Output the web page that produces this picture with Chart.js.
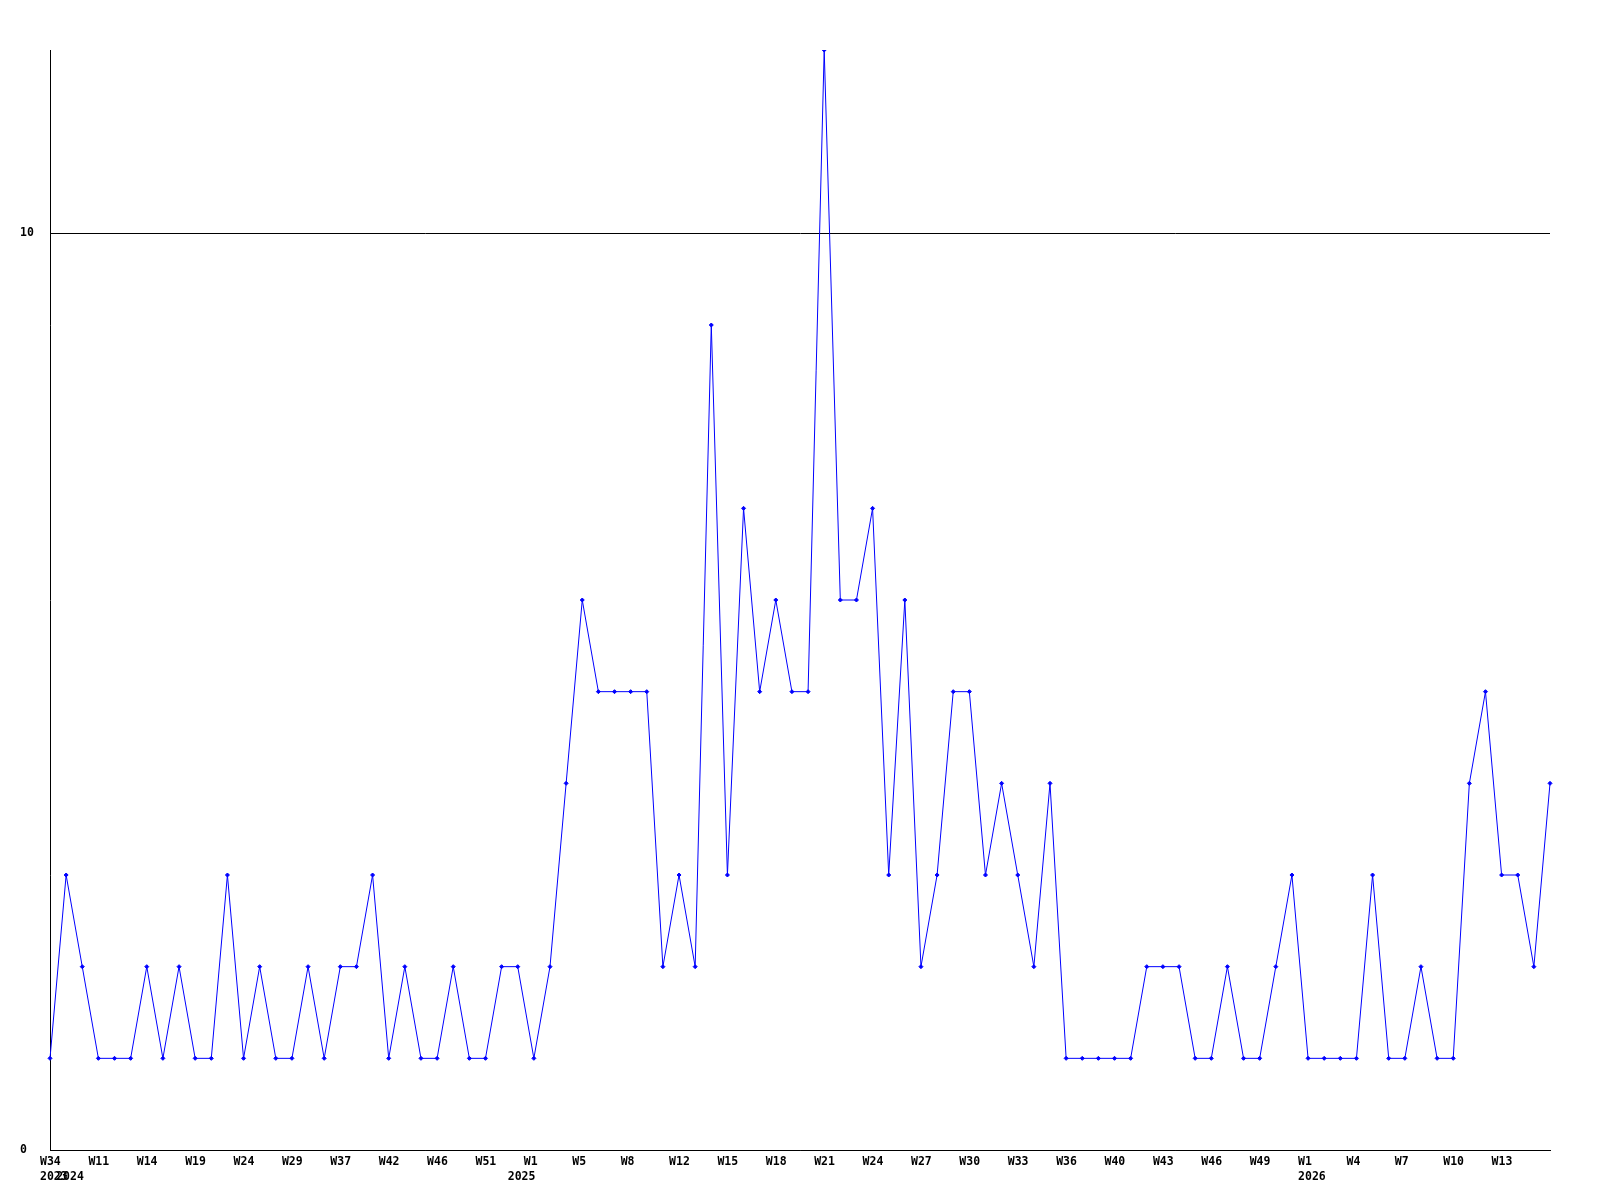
<!DOCTYPE html>
<html>
<head>
<meta charset="utf-8">
<script src="https://cdn.jsdelivr.net/npm/chart.js@4"></script>
<style>
  html, body { margin: 0; padding: 0; background: #fff; }
  #wrap { width: 1600px; height: 1200px; }
</style>
</head>
<body>
<div id="wrap"><canvas id="weekChart" width="1600" height="1200"></canvas></div>
<script>
// Categories: year-week of each data point (only weeks with entries)
const categories = [
    '2023-W34', '2024-W06', '2024-W09', '2024-W11', '2024-W12', '2024-W13', '2024-W14', '2024-W16', '2024-W17', '2024-W19',
    '2024-W21', '2024-W22', '2024-W24', '2024-W26', '2024-W27', '2024-W29', '2024-W32', '2024-W35', '2024-W37', '2024-W39',
    '2024-W40', '2024-W42', '2024-W44', '2024-W45', '2024-W46', '2024-W48', '2024-W50', '2024-W51', '2024-W52', '2025-W00',
    '2025-W01', '2025-W02', '2025-W04', '2025-W05', '2025-W06', '2025-W07', '2025-W08', '2025-W10', '2025-W11', '2025-W12',
    '2025-W13', '2025-W14', '2025-W15', '2025-W16', '2025-W17', '2025-W18', '2025-W19', '2025-W20', '2025-W21', '2025-W22',
    '2025-W23', '2025-W24', '2025-W25', '2025-W26', '2025-W27', '2025-W28', '2025-W29', '2025-W30', '2025-W31', '2025-W32',
    '2025-W33', '2025-W34', '2025-W35', '2025-W36', '2025-W37', '2025-W39', '2025-W40', '2025-W41', '2025-W42', '2025-W43',
    '2025-W44', '2025-W45', '2025-W46', '2025-W47', '2025-W48', '2025-W49', '2025-W50', '2025-W51', '2026-W01', '2026-W02',
    '2026-W03', '2026-W04', '2026-W05', '2026-W06', '2026-W07', '2026-W08', '2026-W09', '2026-W10', '2026-W11', '2026-W12',
    '2026-W13', '2026-W14', '2026-W15', '2026-W16'
];

// Count per week
const counts = [
    1, 3, 2, 1, 1, 1, 2, 1, 2, 1,
    1, 3, 1, 2, 1, 1, 2, 1, 2, 2,
    3, 1, 2, 1, 1, 2, 1, 1, 2, 2,
    1, 2, 4, 6, 5, 5, 5, 5, 2, 3,
    2, 9, 3, 7, 5, 6, 5, 5, 12, 6,
    6, 7, 3, 6, 2, 3, 5, 5, 3, 4,
    3, 2, 4, 1, 1, 1, 1, 1, 2, 2,
    2, 1, 1, 2, 1, 1, 2, 3, 1, 1,
    1, 1, 3, 1, 1, 2, 1, 1, 4, 5,
    3, 3, 2, 4
];

// Y axis
const yMax = 12;
const yTicks = [0, 10];
const labelEvery = 3;

const labelFont = { family: 'DejaVu Sans Mono', size: 11.5, weight: 'bold', lineHeight: 1.3 };

function tickLabel(index) {
    const [year, week] = categories[index].split('-');
    const prevYear = index > 0 ? categories[index - 1].split('-')[0] : null;
    // no week label on the very last point (it would run off the plot)
    const showWeek = index % labelEvery === 0 && index < categories.length - 1;
    const weekText = showWeek ? 'W' + parseInt(week.slice(1), 10) : '';
    const yearText = year !== prevYear ? year : '';
    if (!weekText && !yearText) return '';
    return yearText ? [weekText, yearText] : weekText;
}

const ctx = document.getElementById('weekChart').getContext('2d');
const weekChart = new Chart(ctx, {
    type: 'line',
    data: {
        labels: categories,
        datasets: [{
            data: counts,
            borderColor: '#0000ff',
            backgroundColor: '#0000ff',
            borderWidth: 1,
            tension: 0,
            pointStyle: 'rectRot',
            pointRadius: 2,
            pointBorderWidth: 1,
            pointBackgroundColor: '#0000ff',
            pointBorderColor: '#0000ff'
        }]
    },
    options: {
        responsive: false,
        animation: false,
        devicePixelRatio: 1,
        layout: { padding: { top: 50, right: 50, bottom: 0, left: 20 } },
        plugins: {
            legend: { display: false },
            tooltip: { enabled: false }
        },
        scales: {
            x: {
                type: 'category',
                offset: false,
                grid: { display: false, drawTicks: false },
                border: { display: true, color: '#000', width: 1 },
                ticks: {
                    autoSkip: false,
                    maxRotation: 0,
                    minRotation: 0,
                    align: 'start',
                    labelOffset: -10,
                    padding: 5,
                    color: '#000',
                    font: labelFont,
                    callback: (value, index) => tickLabel(index)
                },
                afterFit: (axis) => { axis.height = 50; }
            },
            y: {
                min: 0,
                max: yMax,
                grid: { color: '#000', lineWidth: 1, drawTicks: false },
                border: { display: true, color: '#000', width: 1 },
                afterBuildTicks: (axis) => { axis.ticks = yTicks.map(v => ({ value: v })); },
                ticks: {
                    crossAlign: 'far',
                    color: '#000',
                    font: labelFont,
                    callback: (value) => String(value)
                },
                afterFit: (axis) => { axis.width = 30; }
            }
        }
    }
});
</script>
</body>
</html>
